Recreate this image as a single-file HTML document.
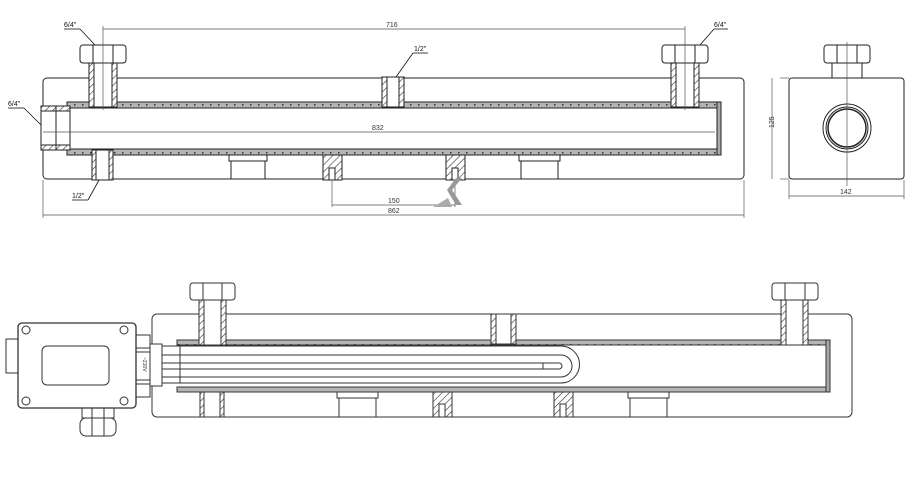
<!DOCTYPE html>
<html><head><meta charset="utf-8"><style>
html,body{margin:0;padding:0;background:#fff}
svg{display:block}
text{font-family:"Liberation Sans",sans-serif}
</style></head><body>
<svg width="915" height="482" viewBox="0 0 915 482" xmlns="http://www.w3.org/2000/svg">
<defs>
<pattern id="h" width="5" height="5" patternUnits="userSpaceOnUse" patternTransform="rotate(45)">
<rect width="5" height="5" fill="#fff"/><line x1="0" y1="0" x2="0" y2="5" stroke="#333" stroke-width="1.2"/></pattern>
<pattern id="w" width="8" height="6" patternUnits="userSpaceOnUse">
<rect width="8" height="6" fill="#b5b5b5"/><rect x="2" y="2" width="1.5" height="1.5" fill="#333"/></pattern>
</defs>
<g fill="none" stroke="#222" stroke-width="1">
<!-- ===== TOP VIEW ===== -->
<rect x="43" y="78" width="701" height="101" rx="4" fill="#fff"/>
<rect x="67" y="102" width="654" height="6" fill="url(#w)"/>
<rect x="67" y="149" width="654" height="6" fill="url(#w)"/>
<rect x="717" y="102" width="4" height="53" fill="#aaa"/>
<line x1="67" y1="108" x2="717" y2="108"/><line x1="67" y1="149" x2="717" y2="149"/>
<rect x="41" y="106" width="29" height="44" fill="#fff"/>
<rect x="41" y="106" width="29" height="5" fill="url(#h)"/>
<rect x="41" y="145" width="29" height="5" fill="url(#h)"/>
<line x1="56" y1="106" x2="56" y2="150"/>
<rect x="89" y="63" width="28" height="44" fill="#fff"/>
<rect x="89" y="63" width="5" height="44" fill="url(#h)"/><rect x="112" y="63" width="5" height="44" fill="url(#h)"/>
<rect x="80" y="45" width="46" height="18" rx="3" fill="#fff"/>
<line x1="93" y1="45" x2="93" y2="63"/><line x1="113" y1="45" x2="113" y2="63"/>
<rect x="671" y="63" width="28" height="44" fill="#fff"/>
<rect x="671" y="63" width="5" height="44" fill="url(#h)"/><rect x="694" y="63" width="5" height="44" fill="url(#h)"/>
<rect x="662" y="45" width="46" height="18" rx="3" fill="#fff"/>
<line x1="675" y1="45" x2="675" y2="63"/><line x1="695" y1="45" x2="695" y2="63"/>
<rect x="382" y="77" width="22" height="30" rx="2" fill="#fff"/>
<rect x="382" y="77" width="5" height="30" fill="url(#h)"/><rect x="399" y="77" width="5" height="30" fill="url(#h)"/>
<rect x="92" y="150" width="21" height="30" rx="2" fill="#fff"/>
<rect x="92" y="150" width="4" height="30" fill="url(#h)"/><rect x="109" y="150" width="4" height="30" fill="url(#h)"/>
<rect x="229" y="155" width="38" height="6" fill="#fff"/><rect x="231" y="161" width="34" height="18" fill="#fff"/>
<rect x="519" y="155" width="41" height="6" fill="#fff"/><rect x="521" y="161" width="37" height="18" fill="#fff"/>
<rect x="323" y="155" width="19" height="25" fill="url(#h)"/><rect x="329" y="168" width="6" height="12" fill="#fff"/>
<rect x="446" y="155" width="19" height="25" fill="url(#h)"/><rect x="452" y="168" width="6" height="12" fill="#fff"/>
<rect x="832" y="63" width="30" height="15" fill="#fff"/>
<rect x="824" y="45" width="46" height="18" rx="3" fill="#fff"/>
<line x1="837" y1="45" x2="837" y2="63"/><line x1="857" y1="45" x2="857" y2="63"/>
<rect x="789" y="78" width="115" height="101" rx="3" fill="#fff"/>
<circle cx="847" cy="128" r="24"/><circle cx="847" cy="128" r="21"/><circle cx="847" cy="128" r="19" stroke-width="1.5"/>
</g>
<g stroke="#555" stroke-width="0.7" fill="none">
<line x1="847" y1="42" x2="847" y2="186"/>
<line x1="103" y1="26" x2="103" y2="110"/><line x1="685" y1="26" x2="685" y2="110"/>
<line x1="103" y1="29" x2="685" y2="29"/>
<line x1="43" y1="132" x2="715" y2="132"/>
<line x1="332" y1="180" x2="332" y2="207"/><line x1="455" y1="180" x2="455" y2="207"/>
<line x1="332" y1="205" x2="455" y2="205"/>
<line x1="43" y1="180" x2="43" y2="218"/><line x1="744" y1="180" x2="744" y2="218"/>
<line x1="43" y1="215" x2="744" y2="215"/>
<line x1="780" y1="78" x2="789" y2="78"/><line x1="780" y1="179" x2="789" y2="179"/>
<line x1="772" y1="78" x2="772" y2="179"/>
<line x1="789" y1="180" x2="789" y2="199"/><line x1="904" y1="180" x2="904" y2="199"/>
<line x1="789" y1="196" x2="904" y2="196"/>
</g>
<g stroke="#111" stroke-width="0.8">
<line x1="64" y1="29" x2="80" y2="29"/><line x1="80" y1="29" x2="95" y2="45"/>
<line x1="8" y1="108" x2="24" y2="108"/><line x1="24" y1="108" x2="41" y2="125"/>
<line x1="413" y1="53" x2="428" y2="53"/><line x1="413" y1="53" x2="396" y2="77"/>
<line x1="72" y1="200" x2="88" y2="200"/><line x1="88" y1="200" x2="99" y2="180"/>
<line x1="714" y1="29" x2="728" y2="29"/><line x1="714" y1="29" x2="700" y2="45"/>
</g>
<g font-size="7" fill="#333">
<text x="386" y="27">716</text><text x="372" y="130">832</text><text x="388" y="203">150</text><text x="388" y="213">862</text>
<text x="840" y="194">142</text>
<text x="768" y="134" transform="rotate(-90 768 128)">125</text>
<text x="64" y="27" fill="#111">6/4"</text><text x="8" y="106" fill="#111">6/4"</text>
<text x="414" y="51" fill="#111">1/2"</text><text x="72" y="198" fill="#111">1/2"</text>
<text x="714" y="27" fill="#111">6/4"</text>
</g>
<path d="M462 178 L452 190 L462 205 L456 205 L447 190 L456 178Z" fill="#999"/>
<path d="M433 207 L448 198 L452 207Z" fill="#aaa"/>

<g fill="none" stroke="#333" stroke-width="1">
<rect x="152" y="314" width="700" height="103" rx="5" fill="#fff"/>
<rect x="177" y="340" width="653" height="5" fill="url(#w)"/>
<rect x="177" y="387" width="653" height="5" fill="url(#w)"/>
<rect x="826" y="340" width="4" height="52" fill="#aaa"/>
<path d="M162 346 H561 A18 18 0 0 1 561 383 H162"/>
<path d="M162 355 H561 A9 9 0 0 1 561 377 H162"/>
<path d="M162 363 H559 A3 3 0 0 1 559 369 H162"/>
<line x1="543" y1="363" x2="543" y2="369"/>
<line x1="180" y1="346" x2="180" y2="383"/>
<rect x="150" y="344" width="12" height="42" fill="#fff"/>
<rect x="199" y="300" width="27" height="45" fill="#fff"/>
<rect x="199" y="300" width="5" height="45" fill="url(#h)"/><rect x="221" y="300" width="5" height="45" fill="url(#h)"/>
<rect x="190" y="283" width="45" height="17" rx="3" fill="#fff"/>
<line x1="203" y1="283" x2="203" y2="300"/><line x1="222" y1="283" x2="222" y2="300"/>
<rect x="781" y="300" width="27" height="45" fill="#fff"/>
<rect x="781" y="300" width="5" height="45" fill="url(#h)"/><rect x="803" y="300" width="5" height="45" fill="url(#h)"/>
<rect x="772" y="283" width="46" height="17" rx="3" fill="#fff"/>
<line x1="785" y1="283" x2="785" y2="300"/><line x1="805" y1="283" x2="805" y2="300"/>
<rect x="491" y="314" width="25" height="30" rx="2" fill="#fff"/>
<rect x="491" y="314" width="5" height="30" fill="url(#h)"/><rect x="511" y="314" width="5" height="30" fill="url(#h)"/>
<rect x="200" y="392" width="24" height="25" rx="2" fill="#fff"/>
<rect x="200" y="392" width="4" height="25" fill="url(#h)"/><rect x="220" y="392" width="4" height="25" fill="url(#h)"/>
<rect x="337" y="392" width="41" height="6" fill="#fff"/><rect x="339" y="398" width="37" height="19" fill="#fff"/>
<rect x="628" y="392" width="41" height="6" fill="#fff"/><rect x="630" y="398" width="37" height="19" fill="#fff"/>
<rect x="433" y="392" width="19" height="25" fill="url(#h)"/><rect x="439" y="404" width="6" height="13" fill="#fff"/>
<rect x="554" y="392" width="19" height="25" fill="url(#h)"/><rect x="560" y="404" width="6" height="13" fill="#fff"/>
<rect x="136" y="335" width="14" height="62" fill="#fff"/>
<rect x="136" y="348" width="14" height="4" fill="#fff"/><rect x="136" y="380" width="14" height="4" fill="#fff"/>
<rect x="6" y="339" width="12" height="34" fill="#fff"/>
<rect x="82" y="408" width="32" height="10" fill="#fff"/>
<rect x="80" y="418" width="36" height="18" rx="6" fill="#fff"/>
<line x1="92" y1="408" x2="92" y2="436"/><line x1="104" y1="408" x2="104" y2="436"/>
<rect x="18" y="323" width="118" height="85" rx="4" fill="#fff" stroke-width="1.3"/>
<rect x="42" y="346" width="67" height="39" rx="5"/>
<circle cx="26" cy="330" r="4"/><circle cx="124" cy="330" r="4"/>
<circle cx="26" cy="401" r="4"/><circle cx="124" cy="401" r="4"/>
</g>
<text x="143" y="357" font-size="5" fill="#333" transform="rotate(90 143 357)">~230V</text>
</svg>
</body></html>
